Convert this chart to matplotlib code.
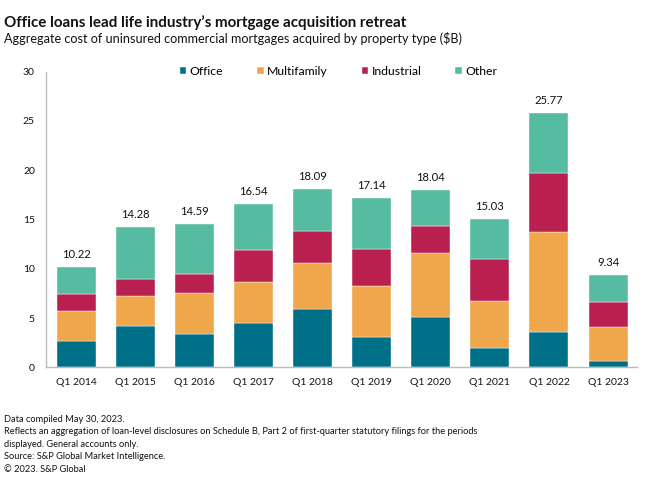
import matplotlib
matplotlib.use("Agg")
import matplotlib.pyplot as plt
import numpy as np

plt.rcParams['font.family'] = ['Lato', 'DejaVu Sans']

categories = ["Q1 2014", "Q1 2015", "Q1 2016", "Q1 2017", "Q1 2018",
              "Q1 2019", "Q1 2020", "Q1 2021", "Q1 2022", "Q1 2023"]
office = [2.71, 4.16, 3.42, 4.50, 5.95, 3.11, 5.11, 1.93, 3.62, 0.64]
multifamily = [3.01, 3.08, 4.12, 4.13, 4.60, 5.18, 6.49, 4.77, 10.08, 3.45]
industrial = [1.76, 1.76, 1.93, 3.28, 3.29, 3.75, 2.71, 4.29, 6.06, 2.54]
other = [2.74, 5.28, 5.12, 4.63, 4.25, 5.10, 3.73, 4.04, 6.01, 2.71]
totals = [10.22, 14.28, 14.59, 16.54, 18.09, 17.14, 18.04, 15.03, 25.77, 9.34]
series_names = ["Office", "Multifamily", "Industrial", "Other"]
colors = ["#006F88", "#F0A64A", "#B92050", "#55BCA2"]
yticks = [0, 5, 10, 15, 20, 25, 30]

W, H = 660, 487
fig = plt.figure(figsize=(6.6, 4.87), dpi=100)
ax = fig.add_axes([46 / W, 1 - 367.3 / H, (637 - 46) / W, (367.3 - 71.7) / H])
renderer = fig.canvas.get_renderer()


def fit_size(txt, target_px, base=10.0):
    t = fig.text(0, 0, txt, fontsize=base)
    w = t.get_window_extent(renderer).width
    t.remove()
    return base * target_px / w


def fit_size_bold(txt, target_px, base=10.0):
    t = fig.text(0, 0, txt, fontsize=base, fontweight="bold")
    w = t.get_window_extent(renderer).width
    t.remove()
    return base * target_px / w


fs_title = fit_size_bold("Office loans lead life industry\u2019s mortgage acquisition retreat", 404)
fs_sub = fit_size("Aggregate cost of uninsured commercial mortgages acquired by property type ($B)", 458)
footer = ["Data compiled May 30, 2023.",
          "Reflects an aggregation of loan-level disclosures on Schedule B, Part 2 of first-quarter statutory filings for the periods",
          "displayed. General accounts only.",
          "Source: S&P Global Market Intelligence.",
          "\u00a9 2023. S&P Global"]
fs_foot = fit_size(footer[1], 477)
fs_tick = fit_size("Q1 2014", 41)
fs_lab = fit_size("10.22", 29)
fs_leg = fit_size("Multifamily", 61)

x = np.arange(len(categories))
bottom = np.zeros(len(categories))
handles = []
for vals, name, c in zip([office, multifamily, industrial, other], series_names, colors):
    b = ax.bar(x, vals, width=0.66, bottom=bottom, color=c, label=name,
               edgecolor="white", linewidth=0.3)
    handles.append(b)
    bottom += np.array(vals)

for xi, t in zip(x, totals):
    ax.annotate(f"{t:.2f}", (xi, t), xytext=(0, 9), textcoords="offset points",
                ha="center", va="center", fontsize=fs_lab, color="#111111")

ax.set_xlim(-0.51, 9.49)
ax.set_ylim(0, 30)
ax.set_yticks(yticks)
ax.set_xticks(x)
ax.set_xticklabels(categories)
ax.tick_params(axis="both", length=0, labelsize=fs_tick, colors="#111111")
ax.tick_params(axis="y", pad=8)
ax.tick_params(axis="x", pad=7.5)
for s in ["top", "right"]:
    ax.spines[s].set_visible(False)
for s in ["left", "bottom"]:
    ax.spines[s].set_color("#BBBBBB")
    ax.spines[s].set_linewidth(1)

fs_leg_px = fs_leg * 100 / 72
leg = ax.legend(handles=handles, loc="center", bbox_to_anchor=(0.4948, 1.0),
                ncol=4, frameon=False, fontsize=fs_leg,
                handlelength=6.5 / fs_leg_px, handleheight=6.5 / fs_leg_px,
                handletextpad=3.2 / fs_leg_px, columnspacing=34 / fs_leg_px,
                borderpad=0, borderaxespad=0)

fig.text(4 / W, 1 - 26.7 / H, "Office loans lead life industry\u2019s mortgage acquisition retreat",
         fontsize=fs_title, fontweight="bold", color="#111111", va="baseline")
fig.text(4 / W, 1 - 42.7 / H, "Aggregate cost of uninsured commercial mortgages acquired by property type ($B)",
         fontsize=fs_sub, color="#111111", va="baseline")

ys = [422.3, 434.5, 446.8, 459.1, 471.5]
for line, yp in zip(footer, ys):
    fig.text(4 / W, 1 - yp / H, line, fontsize=fs_foot, color="#111111", va="baseline")

fig.savefig("out.png", dpi=100)
